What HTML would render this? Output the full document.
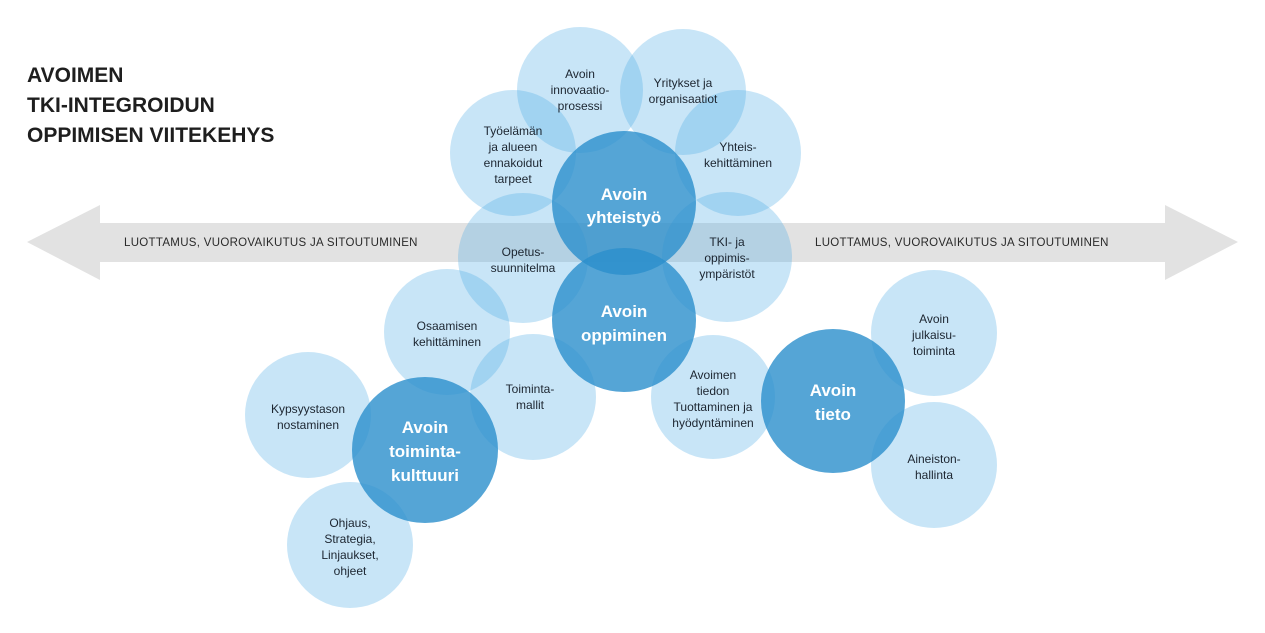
<!DOCTYPE html>
<html><head><meta charset="utf-8"><style>
html,body{margin:0;padding:0;background:#fff;width:1265px;height:633px;overflow:hidden}
svg{display:block}
text{font-family:"Liberation Sans",sans-serif}
.s{font-size:12px;fill:#1c2530;text-anchor:middle}
.b{font-size:17px;fill:#fff;text-anchor:middle;font-weight:bold}
.a{font-size:11.5px;fill:#2a2a2a;letter-spacing:0.3px}
</style></head><body>
<svg width="1265" height="633" viewBox="0 0 1265 633">
<text x="27" y="82" font-size="21" font-weight="bold" fill="#1e1e1e">AVOIMEN</text>
<text x="27" y="112" font-size="21" font-weight="bold" fill="#1e1e1e">TKI-INTEGROIDUN</text>
<text x="27" y="142" font-size="21" font-weight="bold" fill="#1e1e1e">OPPIMISEN VIITEKEHYS</text>
<polygon points="27,242 100,205 100,223 1165,223 1165,205 1238,242 1165,280 1165,262 100,262 100,280" fill="#e2e2e2"/>
<text class="a" x="124" y="246">LUOTTAMUS, VUOROVAIKUTUS JA SITOUTUMINEN</text>
<text class="a" x="815" y="246">LUOTTAMUS, VUOROVAIKUTUS JA SITOUTUMINEN</text>
<g fill="#4aa8e6" fill-opacity="0.3">
<circle cx="580" cy="90" r="63"/><circle cx="683" cy="92" r="63"/>
<circle cx="513" cy="153" r="63"/><circle cx="738" cy="153" r="63"/>
<circle cx="523" cy="258" r="65"/><circle cx="727" cy="257" r="65"/>
<circle cx="447" cy="332" r="63"/><circle cx="533" cy="397" r="63"/>
<circle cx="308" cy="415" r="63"/><circle cx="350" cy="545" r="63"/>
<circle cx="713" cy="397" r="62"/><circle cx="934" cy="333" r="63"/>
<circle cx="934" cy="465" r="63"/>
</g>
<g fill="#2a8fcc" fill-opacity="0.8">
<circle cx="624" cy="203" r="72"/><circle cx="624" cy="320" r="72"/>
<circle cx="425" cy="450" r="73"/><circle cx="833" cy="401" r="72"/>
</g>
<text class="s" x="580" y="78">Avoin</text><text class="s" x="580" y="94">innovaatio-</text><text class="s" x="580" y="110">prosessi</text>
<text class="s" x="683" y="87">Yritykset ja</text><text class="s" x="683" y="103">organisaatiot</text>
<text class="s" x="513" y="135">Työelämän</text><text class="s" x="513" y="151">ja alueen</text><text class="s" x="513" y="167">ennakoidut</text><text class="s" x="513" y="183">tarpeet</text>
<text class="s" x="738" y="151">Yhteis-</text><text class="s" x="738" y="167">kehittäminen</text>
<text class="s" x="523" y="256">Opetus-</text><text class="s" x="523" y="272">suunnitelma</text>
<text class="s" x="727" y="246">TKI- ja</text><text class="s" x="727" y="262">oppimis-</text><text class="s" x="727" y="278">ympäristöt</text>
<text class="s" x="447" y="330">Osaamisen</text><text class="s" x="447" y="346">kehittäminen</text>
<text class="s" x="530" y="393">Toiminta-</text><text class="s" x="530" y="409">mallit</text>
<text class="s" x="308" y="413">Kypsyystason</text><text class="s" x="308" y="429">nostaminen</text>
<text class="s" x="350" y="527">Ohjaus,</text><text class="s" x="350" y="543">Strategia,</text><text class="s" x="350" y="559">Linjaukset,</text><text class="s" x="350" y="575">ohjeet</text>
<text class="s" x="713" y="379">Avoimen</text><text class="s" x="713" y="395">tiedon</text><text class="s" x="713" y="411">Tuottaminen ja</text><text class="s" x="713" y="427">hyödyntäminen</text>
<text class="s" x="934" y="323">Avoin</text><text class="s" x="934" y="339">julkaisu-</text><text class="s" x="934" y="355">toiminta</text>
<text class="s" x="934" y="463">Aineiston-</text><text class="s" x="934" y="479">hallinta</text>
<text class="b" x="624" y="200">Avoin</text><text class="b" x="624" y="223">yhteistyö</text>
<text class="b" x="624" y="317">Avoin</text><text class="b" x="624" y="341">oppiminen</text>
<text class="b" x="425" y="433">Avoin</text><text class="b" x="425" y="457">toiminta-</text><text class="b" x="425" y="481">kulttuuri</text>
<text class="b" x="833" y="396">Avoin</text><text class="b" x="833" y="420">tieto</text>
</svg>
</body></html>
